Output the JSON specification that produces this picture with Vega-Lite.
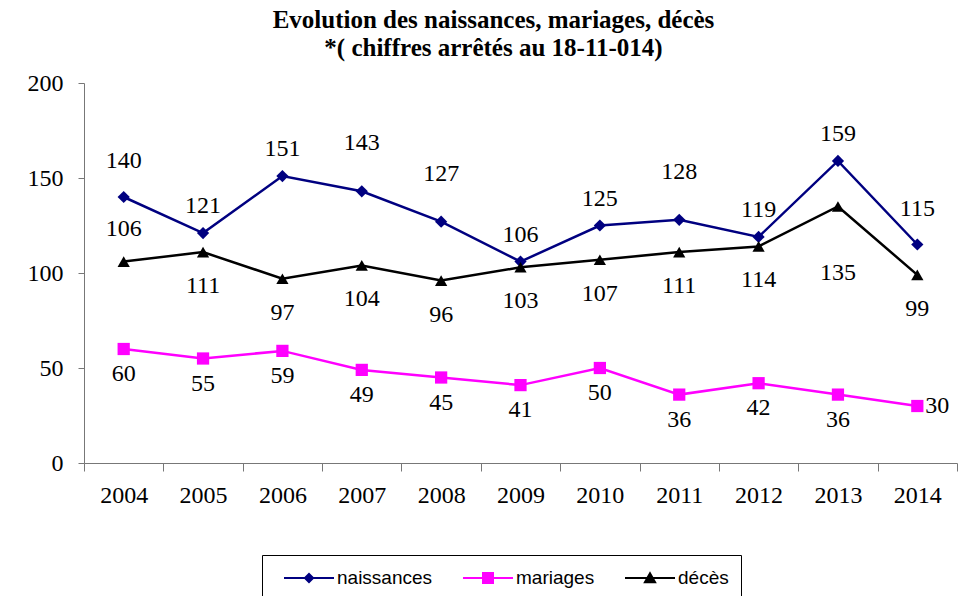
{
  "$schema": "https://vega.github.io/schema/vega-lite/v6.json",
  "autosize": "none",
  "width": 873,
  "height": 380,
  "padding": {"left": 84, "top": 83, "right": 14, "bottom": 133},
  "background": "white",
  "title": {
    "text": ["Evolution des naissances, mariages, décès", "*( chiffres arrêtés au 18-11-014)"],
    "font": "'Liberation Serif', 'Times New Roman', serif",
    "fontSize": 25,
    "fontWeight": "bold",
    "color": "black",
    "lineHeight": 28,
    "anchor": "middle",
    "baseline": "alphabetic",
    "dx": -27,
    "offset": -10
  },
  "data": {
    "values": [
      {"year": "2004", "series": "naissances", "value": 140},
      {"year": "2005", "series": "naissances", "value": 121},
      {"year": "2006", "series": "naissances", "value": 151},
      {"year": "2007", "series": "naissances", "value": 143},
      {"year": "2008", "series": "naissances", "value": 127},
      {"year": "2009", "series": "naissances", "value": 106},
      {"year": "2010", "series": "naissances", "value": 125},
      {"year": "2011", "series": "naissances", "value": 128},
      {"year": "2012", "series": "naissances", "value": 119},
      {"year": "2013", "series": "naissances", "value": 159},
      {"year": "2014", "series": "naissances", "value": 115},
      {"year": "2004", "series": "mariages", "value": 60},
      {"year": "2005", "series": "mariages", "value": 55},
      {"year": "2006", "series": "mariages", "value": 59},
      {"year": "2007", "series": "mariages", "value": 49},
      {"year": "2008", "series": "mariages", "value": 45},
      {"year": "2009", "series": "mariages", "value": 41},
      {"year": "2010", "series": "mariages", "value": 50},
      {"year": "2011", "series": "mariages", "value": 36},
      {"year": "2012", "series": "mariages", "value": 42},
      {"year": "2013", "series": "mariages", "value": 36},
      {"year": "2014", "series": "mariages", "value": 30},
      {"year": "2004", "series": "décès", "value": 106},
      {"year": "2005", "series": "décès", "value": 111},
      {"year": "2006", "series": "décès", "value": 97},
      {"year": "2007", "series": "décès", "value": 104},
      {"year": "2008", "series": "décès", "value": 96},
      {"year": "2009", "series": "décès", "value": 103},
      {"year": "2010", "series": "décès", "value": 107},
      {"year": "2011", "series": "décès", "value": 111},
      {"year": "2012", "series": "décès", "value": 114},
      {"year": "2013", "series": "décès", "value": 135},
      {"year": "2014", "series": "décès", "value": 99}
    ]
  },
  "encoding": {
    "x": {
      "field": "year",
      "type": "ordinal",
      "scale": {"paddingInner": 0, "paddingOuter": 0},
      "axis": {
        "title": null,
        "labelAngle": 0,
        "labelFont": "'Liberation Serif', 'Times New Roman', serif",
        "labelFontSize": 24,
        "labelColor": "black",
        "labelPadding": 12,
        "tickBand": "extent",
        "tickSize": 8,
        "tickColor": "#777777",
        "domainColor": "#777777",
        "grid": false
      }
    },
    "y": {
      "field": "value",
      "type": "quantitative",
      "scale": {"domain": [0, 200], "nice": false},
      "axis": {
        "title": null,
        "values": [0, 50, 100, 150, 200],
        "labelFont": "'Liberation Serif', 'Times New Roman', serif",
        "labelFontSize": 24,
        "labelColor": "black",
        "labelPadding": 15,
        "tickSize": 6,
        "tickColor": "#777777",
        "domainColor": "#777777",
        "grid": false
      }
    }
  },
  "resolve": {"scale": {"shape": "independent", "color": "independent"}},
  "layer": [
    {
      "mark": {"type": "line", "strokeWidth": 2.5},
      "encoding": {
        "color": {
          "field": "series",
          "type": "nominal",
          "scale": {"domain": ["naissances", "mariages", "décès"], "range": ["#000080", "#FF00FF", "#000000"]},
          "legend": null
        }
      }
    },
    {
      "mark": {"type": "point", "filled": true, "opacity": 1, "size": 150},
      "encoding": {
        "color": {
          "field": "series",
          "type": "nominal",
          "scale": {"domain": ["naissances", "mariages", "décès"], "range": ["#000080", "#FF00FF", "#000000"]},
          "legend": null
        },
        "shape": {
          "field": "series",
          "type": "nominal",
          "scale": {"domain": ["naissances", "mariages", "décès"], "range": ["diamond", "square", "triangle-up"]},
          "legend": null
        }
      }
    },
    {
      "transform": [{"filter": "false"}],
      "mark": {"type": "point", "filled": true, "opacity": 1, "size": 400},
      "encoding": {
        "color": {
          "field": "series",
          "type": "nominal",
          "scale": {"domain": ["naissances", "mariages", "décès"], "range": ["#000080", "#FF00FF", "#000000"]},
          "legend": {
            "orient": "none",
            "legendX": 178,
            "legendY": 472,
            "direction": "horizontal",
            "title": null,
            "symbolSize": 400,
            "symbolOffset": 24,
            "labelOffset": 17,
            "columnPadding": 20,
            "padding": 12,
            "symbolOpacity": 1,
            "strokeColor": "black",
            "fillColor": "white",
            "labelFont": "'Liberation Sans', Arial, sans-serif",
            "labelFontSize": 19,
            "labelColor": "black"
          }
        },
        "shape": {
          "field": "series",
          "type": "nominal",
          "scale": {
            "domain": ["naissances", "mariages", "décès"],
            "range": [
              "M-2.5,-0.11H2.5V0.11H-2.5Z M0,-0.55L0.55,0L0,0.55L-0.55,0Z",
              "M-2.5,-0.11H2.5V0.11H-2.5Z M-0.6,-0.6H0.6V0.6H-0.6Z",
              "M-2.5,-0.11H2.5V0.11H-2.5Z M0,-0.68L0.68,0.52H-0.68Z"
            ]
          },
          "legend": {
            "orient": "none",
            "legendX": 178,
            "legendY": 472,
            "direction": "horizontal",
            "title": null,
            "symbolSize": 400,
            "symbolOffset": 24,
            "labelOffset": 17,
            "columnPadding": 20,
            "padding": 12,
            "symbolOpacity": 1,
            "strokeColor": "black",
            "fillColor": "white",
            "labelFont": "'Liberation Sans', Arial, sans-serif",
            "labelFontSize": 19,
            "labelColor": "black"
          }
        }
      }
    },
    {
      "transform": [{"filter": "datum.series === 'naissances' && indexof(['2005','2006','2009','2010','2012','2013'], datum.year) >= 0"}],
      "mark": {"type": "text", "font": "'Liberation Serif', 'Times New Roman', serif", "fontSize": 24, "color": "black", "baseline": "middle", "dy": -27},
      "encoding": {"text": {"field": "value", "type": "quantitative"}}
    },
    {
      "transform": [{"filter": "datum.series === 'naissances' && indexof(['2004','2014'], datum.year) >= 0"}],
      "mark": {"type": "text", "font": "'Liberation Serif', 'Times New Roman', serif", "fontSize": 24, "color": "black", "baseline": "middle", "dy": -36},
      "encoding": {"text": {"field": "value", "type": "quantitative"}}
    },
    {
      "transform": [{"filter": "datum.series === 'naissances' && indexof(['2007','2008','2011'], datum.year) >= 0"}],
      "mark": {"type": "text", "font": "'Liberation Serif', 'Times New Roman', serif", "fontSize": 24, "color": "black", "baseline": "middle", "dy": -48},
      "encoding": {"text": {"field": "value", "type": "quantitative"}}
    },
    {
      "transform": [{"filter": "datum.series === 'décès' && datum.year !== '2004' && datum.year !== '2013'"}],
      "mark": {"type": "text", "font": "'Liberation Serif', 'Times New Roman', serif", "fontSize": 24, "color": "black", "baseline": "middle", "dy": 34},
      "encoding": {"text": {"field": "value", "type": "quantitative"}}
    },
    {
      "transform": [{"filter": "datum.series === 'décès' && datum.year === '2004'"}],
      "mark": {"type": "text", "font": "'Liberation Serif', 'Times New Roman', serif", "fontSize": 24, "color": "black", "baseline": "middle", "dy": -33},
      "encoding": {"text": {"field": "value", "type": "quantitative"}}
    },
    {
      "transform": [{"filter": "datum.series === 'décès' && datum.year === '2013'"}],
      "mark": {"type": "text", "font": "'Liberation Serif', 'Times New Roman', serif", "fontSize": 24, "color": "black", "baseline": "middle", "dy": 66},
      "encoding": {"text": {"field": "value", "type": "quantitative"}}
    },
    {
      "transform": [{"filter": "datum.series === 'mariages' && datum.year !== '2014'"}],
      "mark": {"type": "text", "font": "'Liberation Serif', 'Times New Roman', serif", "fontSize": 24, "color": "black", "baseline": "middle", "dy": 25},
      "encoding": {"text": {"field": "value", "type": "quantitative"}}
    },
    {
      "transform": [{"filter": "datum.series === 'mariages' && datum.year === '2014'"}],
      "mark": {"type": "text", "font": "'Liberation Serif', 'Times New Roman', serif", "fontSize": 24, "color": "black", "baseline": "middle", "align": "left", "dx": 8},
      "encoding": {"text": {"field": "value", "type": "quantitative"}}
    }
  ],
  "config": {
    "view": {"stroke": null}
  }
}
